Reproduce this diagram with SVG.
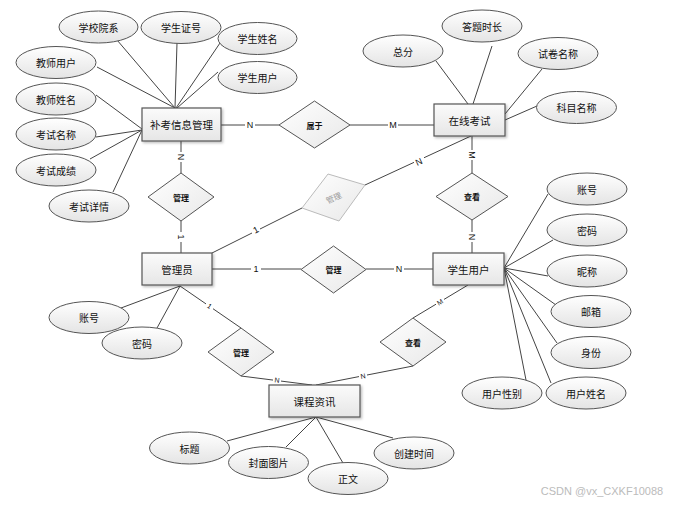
<svg xmlns="http://www.w3.org/2000/svg" width="678" height="505" viewBox="0 0 678 505">
<defs>
<linearGradient id="gE" x1="0" y1="0" x2="0" y2="1"><stop offset="0" stop-color="#ffffff"/><stop offset="1" stop-color="#e4e4e4"/></linearGradient>
<linearGradient id="gR" x1="0" y1="0" x2="0" y2="1"><stop offset="0" stop-color="#fbfbfb"/><stop offset="1" stop-color="#e6e6e6"/></linearGradient>
<linearGradient id="gD" x1="0" y1="0" x2="1" y2="1"><stop offset="0" stop-color="#ffffff"/><stop offset="1" stop-color="#e8e8e8"/></linearGradient>
<filter id="sh" x="-10%" y="-10%" width="130%" height="140%"><feDropShadow dx="1.5" dy="1.5" stdDeviation="1" flood-color="#000" flood-opacity="0.25"/></filter>
</defs>
<style>
text{font-family:"Noto Sans CJK SC","Liberation Sans",sans-serif;fill:#111;text-anchor:middle;dominant-baseline:central}
.e{fill:url(#gE);stroke:#555;stroke-width:1}
.r{fill:url(#gR);stroke:#555;stroke-width:1.2;filter:url(#sh)}
.d{fill:url(#gD);stroke:#555;stroke-width:1}
.dg{fill:url(#gD);stroke:#bbb;stroke-width:1}
.t{font-size:10px}
.tr{font-size:10.5px}
.td{font-size:8px;font-weight:bold}
.l{font-size:9px;font-family:"Liberation Sans",sans-serif}
.ls{font-size:7px;font-family:"Liberation Sans",sans-serif}
#conn line{stroke:#444;stroke-width:1}
</style>
<rect width="678" height="505" fill="#fff"/>
<g id="conn">
<line x1="117" y1="40" x2="175" y2="108"/>
<line x1="177" y1="43" x2="175" y2="108"/>
<line x1="220" y1="43" x2="176" y2="108"/>
<line x1="218" y1="72" x2="177" y2="108"/>
<line x1="97" y1="67" x2="175" y2="108"/>
<line x1="96" y1="95" x2="142" y2="129"/>
<line x1="96" y1="137" x2="142" y2="130"/>
<line x1="90" y1="159" x2="142" y2="130"/>
<line x1="113" y1="192" x2="142" y2="130"/>
<line x1="221" y1="125" x2="279" y2="125"/>
<line x1="350" y1="125" x2="434" y2="125"/>
<line x1="181" y1="141" x2="181" y2="173"/>
<line x1="181" y1="221" x2="181" y2="253"/>
<line x1="212" y1="253" x2="302" y2="208"/>
<line x1="365" y1="185" x2="471" y2="136"/>
<line x1="472" y1="136" x2="472" y2="173"/>
<line x1="472" y1="220" x2="472" y2="253"/>
<line x1="212" y1="269" x2="301" y2="269"/>
<line x1="366" y1="269" x2="433" y2="269"/>
<line x1="180" y1="286" x2="241" y2="328"/>
<line x1="241" y1="376" x2="312" y2="385"/>
<line x1="468" y1="285" x2="413" y2="318"/>
<line x1="413" y1="366" x2="316" y2="385"/>
<line x1="436" y1="61" x2="468" y2="104"/>
<line x1="492" y1="46" x2="473" y2="104"/>
<line x1="542" y1="69" x2="505" y2="114"/>
<line x1="537" y1="106" x2="505" y2="120"/>
<line x1="121" y1="308" x2="180" y2="286"/>
<line x1="157" y1="328" x2="180" y2="286"/>
<line x1="316" y1="417" x2="227" y2="441"/>
<line x1="316" y1="417" x2="286" y2="447"/>
<line x1="316" y1="417" x2="343" y2="463"/>
<line x1="316" y1="417" x2="393" y2="438"/>
<line x1="504" y1="268" x2="548" y2="194"/>
<line x1="504" y1="268" x2="553" y2="240"/>
<line x1="504" y1="268" x2="548" y2="276"/>
<line x1="504" y1="268" x2="556" y2="305"/>
<line x1="504" y1="268" x2="557" y2="343"/>
<line x1="504" y1="268" x2="551" y2="383"/>
<line x1="504" y1="268" x2="526" y2="380"/>
</g>
<g id="conn-labels">
<rect x="245" y="119" width="10" height="12" fill="#fff"/><text class="l" x="250" y="125">N</text>
<rect x="388" y="119" width="10" height="12" fill="#fff"/><text class="l" x="393" y="125">M</text>
<rect x="176" y="152" width="10" height="10" fill="#fff"/><text class="l" x="181" y="157" transform="rotate(90 181 157)">N</text>
<rect x="176" y="232" width="10" height="10" fill="#fff"/><text class="l" x="181" y="237" transform="rotate(90 181 237)">1</text>
<rect x="252" y="225" width="8" height="10" fill="#fff"/><text class="l" x="256" y="230" transform="rotate(-27 256 230)">1</text>
<rect x="414" y="157" width="10" height="10" fill="#fff"/><text class="l" x="419" y="162" transform="rotate(-25 419 162)">N</text>
<rect x="467" y="150" width="10" height="10" fill="#fff"/><text class="l" x="472" y="155" transform="rotate(90 472 155)">M</text>
<rect x="467" y="232" width="10" height="10" fill="#fff"/><text class="l" x="472" y="237" transform="rotate(90 472 237)">N</text>
<rect x="251" y="263" width="10" height="12" fill="#fff"/><text class="l" x="256" y="269">1</text>
<rect x="394" y="263" width="10" height="12" fill="#fff"/><text class="l" x="399" y="269">N</text>
<rect x="206" y="302" width="7" height="8" fill="#fff"/><text class="ls" x="209.5" y="306" transform="rotate(35 209.5 306)">1</text>
<rect x="273" y="376" width="8" height="8" fill="#fff"/><text class="ls" x="277" y="380" transform="rotate(7 277 380)">N</text>
<rect x="436" y="298" width="8" height="8" fill="#fff"/><text class="ls" x="440" y="302" transform="rotate(-31 440 302)">M</text>
<rect x="359" y="372" width="8" height="8" fill="#fff"/><text class="ls" x="363" y="376" transform="rotate(-11 363 376)">N</text>
</g>
<g id="e-bk"><rect class="r" x="142" y="108" width="79" height="33"/><text class="tr" x="181.5" y="124.5">补考信息管理</text></g>
<g id="e-zx"><rect class="r" x="434" y="104" width="71" height="32"/><text class="tr" x="469.5" y="120">在线考试</text></g>
<g id="e-gly"><rect class="r" x="142" y="253" width="70" height="32"/><text class="tr" x="177" y="269">管理员</text></g>
<g id="e-xs"><rect class="r" x="433" y="253" width="71" height="32"/><text class="tr" x="468.5" y="269">学生用户</text></g>
<g id="e-kc"><rect class="r" x="269" y="385" width="91" height="32"/><text class="tr" x="314.5" y="401">课程资讯</text></g>
<g id="r-sy"><polygon class="d" points="314.5,101 350,125 314.5,148 279,125"/><text class="td" x="314.5" y="125">属于</text></g>
<g id="r-gl1"><polygon class="d" points="181,173 214,197 181,221 148,197"/><text class="td" x="181" y="197">管理</text></g>
<g id="r-gl2"><polygon class="dg" points="328,174 365,185 339,221 302,208"/><text class="td" x="333.5" y="197.5" style="fill:#999;font-weight:normal" transform="rotate(-25 333.5 197.5)">管理</text></g>
<g id="r-gl3"><polygon class="d" points="333.5,246 366,269.5 333.5,293 301,269.5"/><text class="td" x="333.5" y="269.5">管理</text></g>
<g id="r-ck1"><polygon class="d" points="472,173 508,196.5 472,220 436,196.5"/><text class="td" x="472" y="196.5">查看</text></g>
<g id="r-ck2"><polygon class="d" points="413,318 446,342 413,366 380,342"/><text class="td" x="413" y="342">查看</text></g>
<g id="r-gl4"><polygon class="d" points="241,328 274,352 241,376 208,352"/><text class="td" x="241" y="352">管理</text></g>
<g id="a1"><ellipse class="e" cx="98.5" cy="27" rx="39.5" ry="16"/><text class="t" x="98.5" y="27">学校院系</text></g>
<g id="a2"><ellipse class="e" cx="181" cy="27.5" rx="40" ry="16"/><text class="t" x="181" y="27.5">学生证号</text></g>
<g id="a3"><ellipse class="e" cx="257.5" cy="38.5" rx="39.5" ry="16"/><text class="t" x="257.5" y="38.5">学生姓名</text></g>
<g id="a4"><ellipse class="e" cx="257.5" cy="77.5" rx="39.5" ry="16"/><text class="t" x="257.5" y="77.5">学生用户</text></g>
<g id="a5"><ellipse class="e" cx="56" cy="62.5" rx="40" ry="16"/><text class="t" x="56" y="62.5">教师用户</text></g>
<g id="a6"><ellipse class="e" cx="56" cy="99" rx="40" ry="16"/><text class="t" x="56" y="99">教师姓名</text></g>
<g id="a7"><ellipse class="e" cx="56" cy="134" rx="40" ry="16"/><text class="t" x="56" y="134">考试名称</text></g>
<g id="a8"><ellipse class="e" cx="56" cy="170" rx="40" ry="16"/><text class="t" x="56" y="170">考试成绩</text></g>
<g id="a9"><ellipse class="e" cx="89" cy="206" rx="40" ry="16"/><text class="t" x="89" y="206">考试详情</text></g>
<g id="b1"><ellipse class="e" cx="403" cy="51" rx="40" ry="16"/><text class="t" x="403" y="51">总分</text></g>
<g id="b2"><ellipse class="e" cx="482" cy="26" rx="40" ry="16"/><text class="t" x="482" y="26">答题时长</text></g>
<g id="b3"><ellipse class="e" cx="558" cy="53.5" rx="40" ry="16"/><text class="t" x="558" y="53.5">试卷名称</text></g>
<g id="b4"><ellipse class="e" cx="576.5" cy="107.5" rx="40" ry="16"/><text class="t" x="576.5" y="107.5">科目名称</text></g>
<g id="c1"><ellipse class="e" cx="89" cy="317.5" rx="40" ry="16"/><text class="t" x="89" y="317.5">账号</text></g>
<g id="c2"><ellipse class="e" cx="142" cy="343" rx="40" ry="16"/><text class="t" x="142" y="343">密码</text></g>
<g id="d1"><ellipse class="e" cx="189.5" cy="448" rx="40" ry="16"/><text class="t" x="189.5" y="448">标题</text></g>
<g id="d2"><ellipse class="e" cx="268.5" cy="462.5" rx="40" ry="16"/><text class="t" x="268.5" y="462.5">封面图片</text></g>
<g id="d3"><ellipse class="e" cx="348" cy="478.5" rx="40" ry="16"/><text class="t" x="348" y="478.5">正文</text></g>
<g id="d4"><ellipse class="e" cx="414" cy="453" rx="40" ry="16"/><text class="t" x="414" y="453">创建时间</text></g>
<g id="s1"><ellipse class="e" cx="587" cy="189" rx="40" ry="16"/><text class="t" x="587" y="189">账号</text></g>
<g id="s2"><ellipse class="e" cx="587" cy="230" rx="40" ry="16"/><text class="t" x="587" y="230">密码</text></g>
<g id="s3"><ellipse class="e" cx="587" cy="271" rx="40" ry="16"/><text class="t" x="587" y="271">昵称</text></g>
<g id="s4"><ellipse class="e" cx="591" cy="311.5" rx="40" ry="16"/><text class="t" x="591" y="311.5">邮箱</text></g>
<g id="s5"><ellipse class="e" cx="591" cy="352.5" rx="40" ry="16"/><text class="t" x="591" y="352.5">身份</text></g>
<g id="s6"><ellipse class="e" cx="586" cy="393" rx="40" ry="16"/><text class="t" x="586" y="393">用户姓名</text></g>
<g id="s7"><ellipse class="e" cx="502" cy="393" rx="40" ry="16"/><text class="t" x="502" y="393">用户性别</text></g>
<text x="602" y="491" style="font-size:11px;fill:#bbb;font-family:'Liberation Sans',sans-serif">CSDN @vx_CXKF10088</text>
</svg>
